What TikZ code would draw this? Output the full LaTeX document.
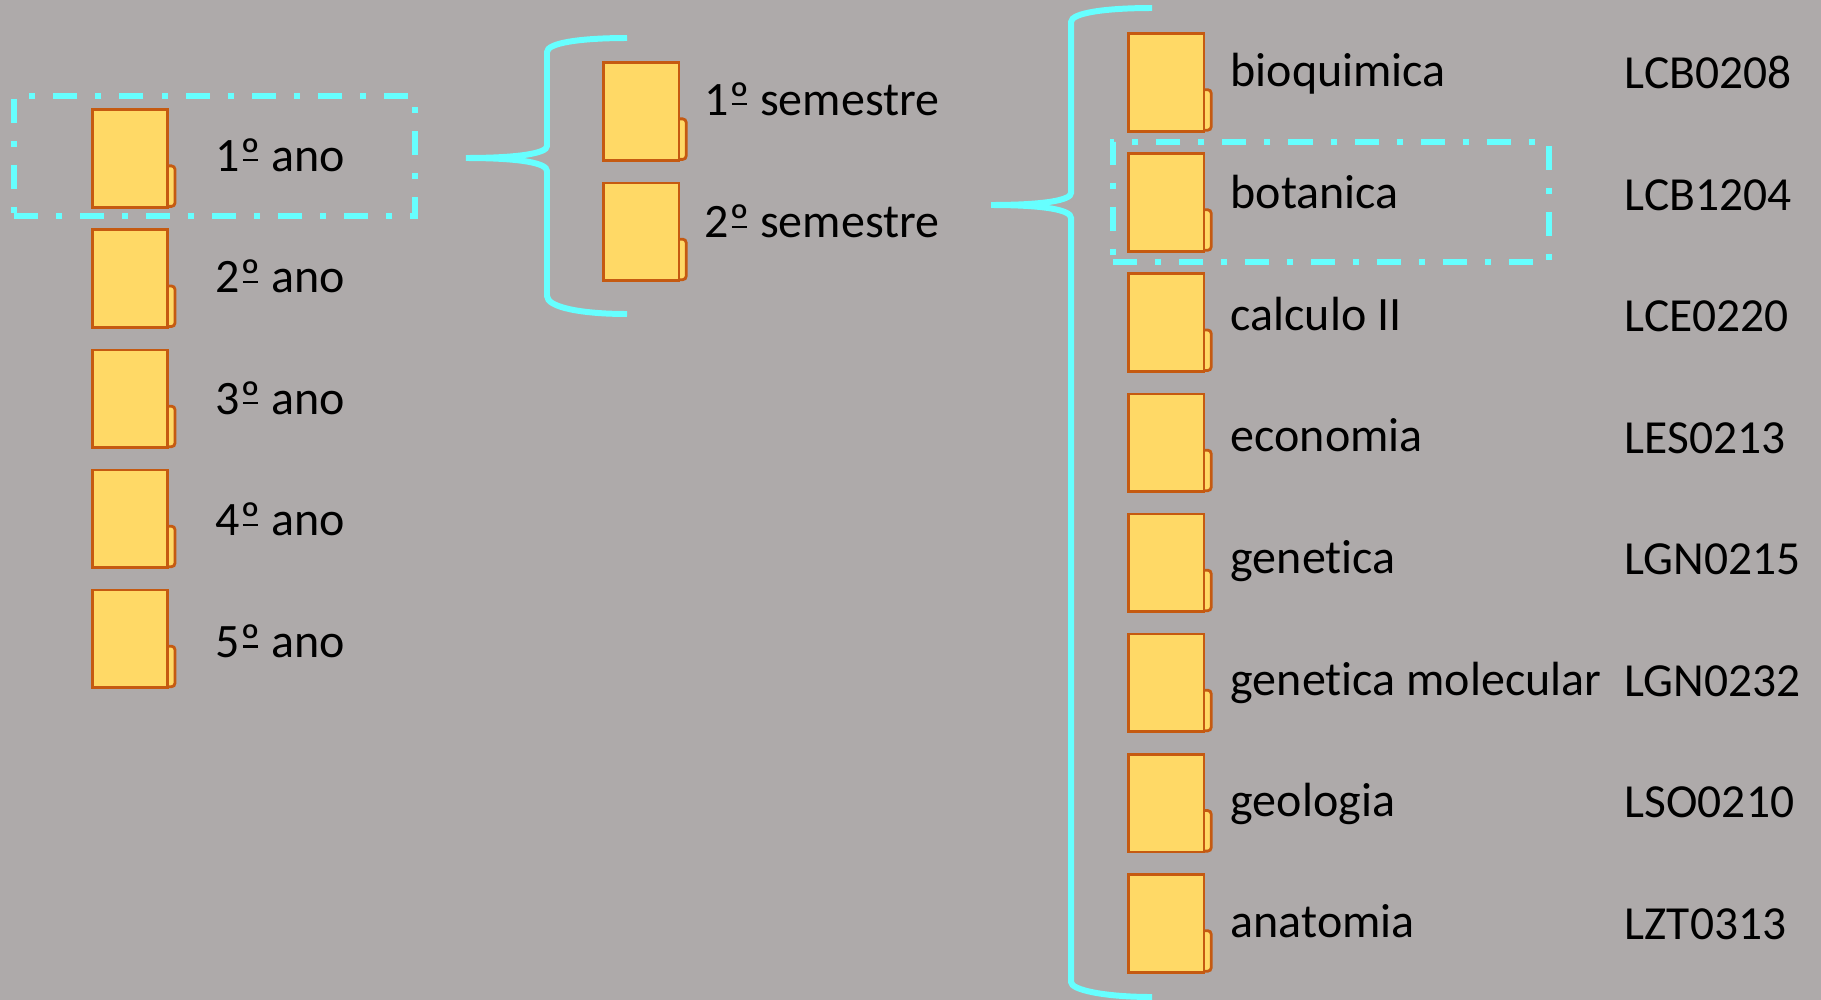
\documentclass[tikz,border=0pt]{standalone}
\usepackage{fontspec}
\setmainfont[Ligatures=NoCommon]{Carlito}
\definecolor{fundo}{HTML}{AEAAAA}
\definecolor{ciano}{HTML}{66FFFF}
\definecolor{pastafill}{HTML}{FFD966}
\definecolor{pastaline}{HTML}{C55A11}
\tikzset{
  pasta/.style={draw=pastaline,fill=pastafill,line width=0.8pt,minimum width=0.754cm,minimum height=0.976cm,inner sep=0pt,outer sep=0pt,anchor=north west},
  aba/.style={draw=pastaline,fill=pastafill,line width=0.8pt,rounded corners=1pt,minimum width=0.3cm,minimum height=0.405cm,inner sep=0pt,outer sep=0pt,anchor=south east},
  chave/.style={draw=ciano,line width=1.7pt},
  selecao/.style={draw=ciano,line width=1.7pt,dash pattern=on 6.83pt off 5.12pt on 1.71pt off 5.12pt},
  rotulo/.style={anchor=base west,inner sep=0pt,font=\fontsize{13.65}{16}\selectfont,text=black},
  codigo/.style={rotulo,font=\fontsize{13.5}{16}\selectfont}
}
% folder: name, x and y of its top left corner
\newcommand{\pasta}[3]{
  \node[aba] (#1t) at ({#2+82.7},{#3+96.7}) {};
  \node[pasta] (#1) at (#2,#3) {};
}
% ordinal with the bar under it
\newcommand{\ordem}{\rlap{\kern0.06em\raisebox{0.2em}{\rule{0.32em}{0.05em}}}º}
\begin{document}
\begin{tikzpicture}[x=0.01cm,y=-0.01cm]
  \fill[fundo] (0,0) rectangle (1821,1000);
  % years
  \pasta{ano1}{92.3}{109.7}
  \pasta{ano2}{92.3}{229.8}
  \pasta{ano3}{92.3}{350}
  \pasta{ano4}{92.3}{470}
  \pasta{ano5}{92.3}{590}
  \node[rotulo] (tano1) at (215,171) {1\ordem{} ano};
  \node[rotulo] (tano2) at (215,292.6) {2\ordem{} ano};
  \node[rotulo] (tano3) at (215,414) {3\ordem{} ano};
  \node[rotulo] (tano4) at (215,535.8) {4\ordem{} ano};
  \node[rotulo] (tano5) at (215,657.4) {5\ordem{} ano};
  % semesters
  \pasta{sem1}{603.5}{62.7}
  \pasta{sem2}{603.5}{183}
  \node[rotulo] (tsem1) at (704,115) {1\ordem{} semestre};
  \node[rotulo] (tsem2) at (704,237.6) {2\ordem{} semestre};
  % subjects
  \pasta{dis1}{1128.5}{33.5}
  \pasta{dis2}{1128.5}{153.6}
  \pasta{dis3}{1128.5}{273.8}
  \pasta{dis4}{1128.5}{394}
  \pasta{dis5}{1128.5}{514}
  \pasta{dis6}{1128.5}{634}
  \pasta{dis7}{1128.5}{754.4}
  \pasta{dis8}{1128.5}{874.5}
  \node[rotulo] (tdis1) at (1230,86) {bioquimica};
  \node[rotulo] (tdis2) at (1230,208.6) {botanica};
  \node[rotulo] (tdis3) at (1230,330.2) {calculo II};
  \node[rotulo] (tdis4) at (1230,451.8) {economia};
  \node[rotulo] (tdis5) at (1230,573.4) {genetica};
  \node[rotulo] (tdis6) at (1230,695) {genetica molecular};
  \node[rotulo] (tdis7) at (1230,816.6) {geologia};
  \node[rotulo] (tdis8) at (1230,937) {anatomia};
  \node[codigo] (cod1) at (1624,88.8) {LCB0208};
  \node[codigo] (cod2) at (1624,210.3) {LCB1204};
  \node[codigo] (cod3) at (1624,331.8) {LCE0220};
  \node[codigo] (cod4) at (1624,453.3) {LES0213};
  \node[codigo] (cod5) at (1624,574.8) {LGN0215};
  \node[codigo] (cod6) at (1624,696.3) {LGN0232};
  \node[codigo] (cod7) at (1624,817.8) {LSO0210};
  \node[codigo] (cod8) at (1624,939) {LZT0313};
  % dashed selections
  \draw[selecao] (14,216) -- (415,216) -- (415,96) -- (14,96) -- cycle;
  \draw[selecao] (1113,262) -- (1549,262) -- (1549,142) -- (1113,142) -- cycle;
  % braces
  \draw[chave] (627,38) .. controls (580,38) and (547,43) .. (547,52) -- (547,146)
    .. controls (547,153) and (520,158) .. (466,158)
    .. controls (520,158) and (547,163) .. (547,171) -- (547,296)
    .. controls (547,307) and (580,314) .. (627,314);
  \draw[chave] (1152,8) .. controls (1105,8) and (1071,13) .. (1071,22) -- (1071,193)
    .. controls (1071,200) and (1045,205) .. (991,205)
    .. controls (1045,205) and (1071,210) .. (1071,218) -- (1071,982)
    .. controls (1071,990) and (1105,997) .. (1152,997);
\end{tikzpicture}
\end{document}
